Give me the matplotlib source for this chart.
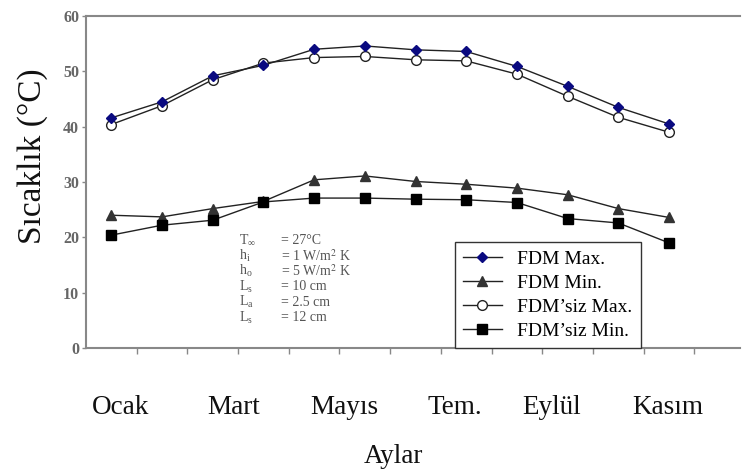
import matplotlib
matplotlib.use("Agg")
import matplotlib.pyplot as plt

months_idx = list(range(12))
month_labels = ["Ocak", "Mart", "Mayıs", "Tem.", "Eylül", "Kasım"]
fdm_max = [41.6, 44.5, 49.2, 51.1, 54.0, 54.6, 53.9, 53.6, 50.9, 47.3, 43.5, 40.5]
fdm_min = [24.0, 23.7, 25.2, 26.5, 30.4, 31.1, 30.1, 29.6, 28.9, 27.7, 25.2, 23.6]
siz_max = [40.4, 43.8, 48.5, 51.5, 52.5, 52.7, 52.1, 51.9, 49.5, 45.5, 41.7, 39.0]
siz_min = [20.4, 22.2, 23.1, 26.4, 27.1, 27.1, 26.9, 26.8, 26.3, 23.4, 22.6, 19.0]
params = [r"$\mathregular{T_\infty}$", r"$\mathregular{h_i}$", r"$\mathregular{h_o}$",
          r"$\mathregular{L_s}$", r"$\mathregular{L_a}$", r"$\mathregular{L_s}$"]
param_vals = ["= 27°C", r"= 1 W/m$^2$ K", r"= 5 W/m$^2$ K", "= 10 cm", "= 2.5 cm", "= 12 cm"]

plt.rcParams['font.family'] = ['Liberation Serif', 'DejaVu Serif']
plt.rcParams['mathtext.fontset'] = 'stix'

fig = plt.figure(figsize=(7.43, 4.73), dpi=100)
ax = fig.add_axes([0.1157, 0.2643, 0.8803, 0.7017])

lc = '#222222'
ax.plot(months_idx, fdm_max, '-', color=lc, lw=1.0, marker='D', ms=5.5,
        mfc='#0a0a80', mec='#0a0a80', label='FDM Max.', zorder=4)
ax.plot(months_idx, fdm_min, '-', color=lc, lw=1.0, marker='^', ms=7,
        mfc='#333333', mec='#333333', label='FDM Min.', zorder=3)
ax.plot(months_idx, siz_max, '-', color=lc, lw=1.0, marker='o', ms=7,
        mfc='white', mec='#222222', mew=1.0, label="FDM’siz Max.", zorder=3)
ax.plot(months_idx, siz_min, '-', color=lc, lw=1.0, marker='s', ms=7,
        mfc='black', mec='black', label="FDM’siz Min.", zorder=4)

ax.set_xlim(-0.5, 12.4)
ax.set_ylim(0, 60)
ax.set_yticks([0, 10, 20, 30, 40, 50, 60])
ax.set_xticks([i + 0.5 for i in range(12)])
ax.set_xticklabels([])
ax.tick_params(axis='y', labelsize=11.5, labelcolor='#666666', color='#888888',
               length=3, width=1, direction='out', pad=2)
ax.tick_params(axis='x', color='#888888', length=4, width=1, direction='out')
for lab in ax.get_yticklabels():
    lab.set_fontweight('bold')
for s in ['left', 'bottom', 'top']:
    ax.spines[s].set_color('#888888')
    ax.spines[s].set_linewidth(1.5)
ax.spines['right'].set_visible(False)

label_pos = [0.18, 2.41, 4.6, 6.78, 8.68, 10.97]
for p, t in zip(label_pos, month_labels):
    ax.text(p, -0.18, t, transform=ax.get_xaxis_transform(), ha='center', va='center',
            fontsize=19.5, color='#111111')

fig.text(0.529, 0.034, "Aylar", ha='center', va='center', fontsize=19.5, color='#111111')
fig.text(0.044, 0.67, "Sıcaklık (°C)", ha='center', va='center', rotation=90,
         fontsize=24, color='#111111')

y0 = 19.5
for i, (p, v) in enumerate(zip(params, param_vals)):
    yy = y0 - i * 2.8
    ax.text(2.52, yy, p, fontsize=10, color='#555555', ha='left', va='center')
    ax.text(3.35, yy, v, fontsize=10, color='#555555', ha='left', va='center')

leg = ax.legend(loc='lower left', bbox_to_anchor=(0.564, 0.0), fontsize=14,
                frameon=True, fancybox=False, edgecolor='#333333', framealpha=1,
                handlelength=2.0, handletextpad=0.8, labelspacing=0.33,
                borderpad=0.42, borderaxespad=0)
leg.get_frame().set_linewidth(1.0)

fig.savefig("out.png", dpi=100)
